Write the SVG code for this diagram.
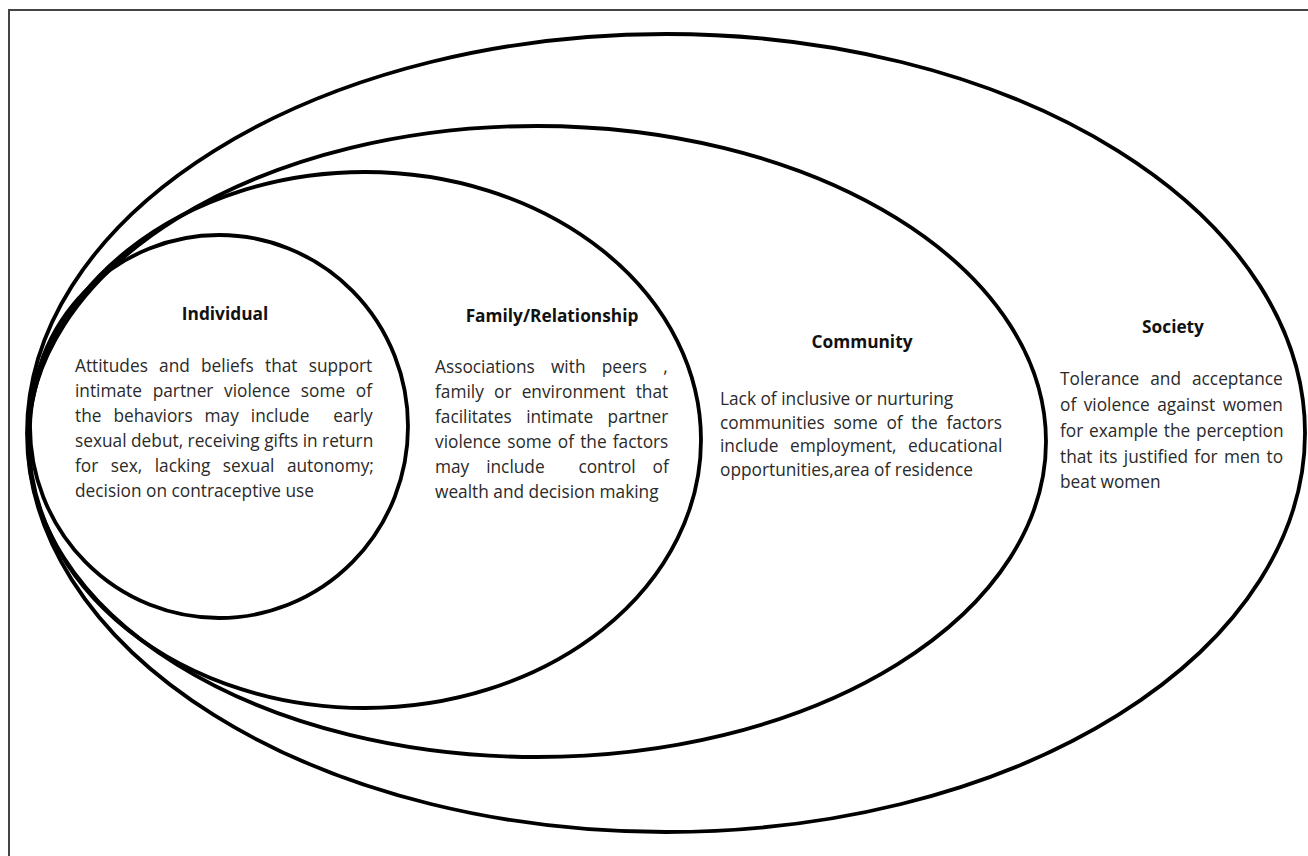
<svg xmlns="http://www.w3.org/2000/svg" width="1308" height="856" viewBox="0 0 1308 856">
<style>
.ring{fill:none;stroke:#000;stroke-width:3.8}
.title{font-family:"Open Sans","Noto Sans",sans-serif;font-weight:bold;font-size:17.3px;fill:#111;text-anchor:middle}
.body{font-family:"Open Sans","Noto Sans",sans-serif;font-size:17.3px;fill:#2a2a2a}
</style>
<rect width="1308" height="856" fill="#fff"/>
<path d="M9,856 V10 H1308" fill="none" stroke="#444" stroke-width="2"/>
<g id="society">
<ellipse class="ring" cx="666" cy="433" rx="639" ry="399"/>
<text class="title" x="1173" y="333">Society</text>
<text class="body"><tspan x="1060" y="385" word-spacing="6.5">Tolerance and acceptance</tspan><tspan x="1060" y="411" word-spacing="3">of violence against women</tspan><tspan x="1060" y="437" word-spacing="1.3">for example the perception</tspan><tspan x="1060" y="463" word-spacing="1.8">that its justified for men to</tspan><tspan x="1060" y="488" word-spacing="0">beat women</tspan></text>
</g>
<g id="community">
<ellipse class="ring" cx="537" cy="441.5" rx="509" ry="315.5"/>
<text class="title" x="862" y="348">Community</text>
<text class="body"><tspan x="720" y="405">Lack of inclusive or nurturing</tspan><tspan x="720" y="428.5" word-spacing="4.2">communities some of the factors</tspan><tspan x="720" y="452" word-spacing="7">include employment, educational</tspan><tspan x="720" y="475.5" word-spacing="0">opportunities,area of residence</tspan></text>
</g>
<g id="family">
<ellipse class="ring" cx="365" cy="440" rx="336" ry="268"/>
<text class="title" x="552" y="322">Family/Relationship</text>
<text class="body"><tspan x="435" y="373" word-spacing="11.7">Associations with peers ,</tspan><tspan x="435" y="398" word-spacing="5.7">family or environment that</tspan><tspan x="435" y="423" word-spacing="10">facilitates intimate partner</tspan><tspan x="435" y="448" word-spacing="1.7">violence some of the factors</tspan><tspan x="435" y="473" word-spacing="12.4">may include &#160;control of</tspan><tspan x="435" y="498" word-spacing="0">wealth and decision making</tspan></text>
</g>
<g id="individual">
<ellipse class="ring" cx="219" cy="426.5" rx="189" ry="191.5"/>
<text class="title" x="225" y="320">Individual</text>
<text class="body"><tspan x="75" y="372" word-spacing="6.7">Attitudes and beliefs that support</tspan><tspan x="75" y="397" word-spacing="6.2">intimate partner violence some of</tspan><tspan x="75" y="422" word-spacing="7.5">the behaviors may include &#160;early</tspan><tspan x="75" y="447" word-spacing="0">sexual debut, receiving gifts in return</tspan><tspan x="75" y="472" word-spacing="8">for sex, lacking sexual autonomy;</tspan><tspan x="75" y="497" word-spacing="0">decision on contraceptive use</tspan></text>
</g>
<g id="connectors"></g>
</svg>
